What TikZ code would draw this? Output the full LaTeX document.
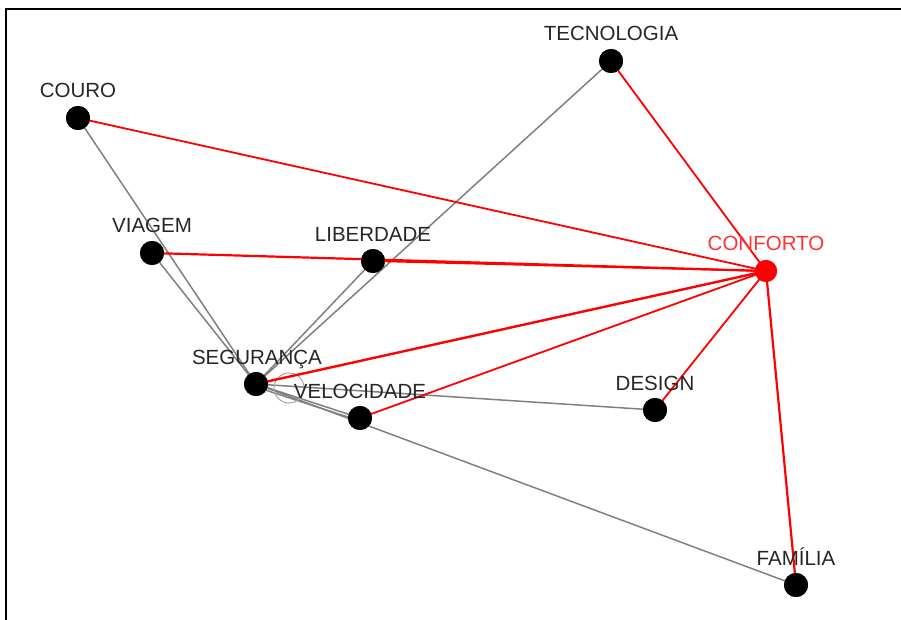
\documentclass[tikz,border=0pt]{standalone}
\usepackage{fontspec}
\setmainfont{Liberation Sans}
\begin{document}
\begin{tikzpicture}[x=1pt,y=-1pt,
  dot/.style={circle,fill=black,minimum size=24pt,inner sep=0pt},
  reddot/.style={circle,fill=red,minimum size=22pt,inner sep=0pt},
  lbl/.style={anchor=base,inner sep=0pt,font=\fontsize{20.5}{22}\selectfont,text=black!85},
  redlbl/.style={lbl,text=red!80},
  grayedge/.style={draw=black!50,line width=1.5pt},
  redge/.style={draw=red,line width=1.8pt},
  frame/.style={draw=black,line width=2pt}]
\useasboundingbox (0,0) rectangle (901,620);
\coordinate (fa) at (5.5,620);
\coordinate (fb) at (5.5,9.5);
\coordinate (fc) at (901,9.5);
\draw[frame] (fa) -- (fb) -- (fc);
% nodes
\node[dot] (tec) at (611,61) {};
\node[dot] (cou) at (78,118) {};
\node[dot] (via) at (152,253) {};
\node[dot] (lib) at (373,261) {};
\node[reddot] (con) at (766,271) {};
\node[dot] (seg) at (256,384) {};
\node[dot] (vel) at (360,418) {};
\node[dot] (des) at (655,410) {};
\node[dot] (fam) at (796,585) {};
% gray edges
\begin{scope}[on background layer/.style={}]
\end{scope}
\path[grayedge] (cou.center) -- (seg.center);
\path[grayedge] (via.center) -- (seg.center);
\path[grayedge] (tec.center) -- (seg.center);
\path[grayedge] (lib.center) -- (seg.center);
\path[grayedge] (seg.center) -- (vel.center);
\path[grayedge] ([yshift=-3pt]seg.center) -- ([yshift=-3pt]vel.center);
\path[grayedge] (seg.center) -- (des.center);
\path[grayedge] (seg.center) -- (fam.center);
\coordinate (loopc) at (289,388);
\draw[black!35,line width=1pt] (loopc) circle[radius=15pt];
% red edges
\path[redge] (con.center) -- (cou.center);
\path[redge,line width=2.2pt] (con.center) -- (via.center);
\path[redge] (con.center) -- (lib.center);
\path[redge] (con.center) -- (tec.center);
\path[redge,line width=2.4pt] (con.center) -- (seg.center);
\path[redge] (con.center) -- (vel.center);
\path[redge] (con.center) -- (des.center);
\path[redge,line width=2.2pt] (con.center) -- (fam.center);
% redraw dots on top
\node[dot] at (tec) {};
\node[dot] at (cou) {};
\node[dot] at (via) {};
\node[dot] at (lib) {};
\node[reddot] at (con) {};
\node[dot] at (seg) {};
\node[dot] at (vel) {};
\node[dot] at (des) {};
\node[dot] at (fam) {};
% labels
\node[lbl] (tecl) at (611,41) {TECNOLOGIA};
\node[lbl] (coul) at (78,98) {COURO};
\node[lbl] (vial) at (152,233) {VIAGEM};
\node[lbl] (libl) at (373,241) {LIBERDADE};
\node[redlbl] (conl) at (766,250) {CONFORTO};
\node[lbl] (segl) at (257,364) {SEGURANÇA};
\node[lbl] (vell) at (360,398) {VELOCIDADE};
\node[lbl] (desl) at (655,390) {DESIGN};
\node[lbl] (faml) at (796,565) {FAMÍLIA};
\end{tikzpicture}
\end{document}
